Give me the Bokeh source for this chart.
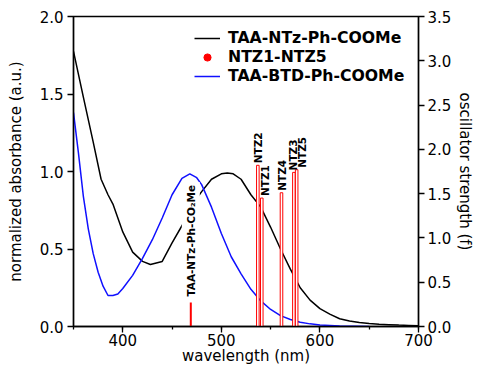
import math
from bokeh.plotting import figure
from bokeh.models import (Range1d, LinearAxis, SingleIntervalTicker, PrintfTickFormatter,
                          Legend, LegendItem, ColumnDataSource)
from bokeh.core.properties import value
from bokeh.embed import file_html
from bokeh.resources import INLINE

# ---------------- data ----------------
ntz_wl = [350, 360, 370, 378, 385, 390, 400, 410, 420, 428, 440, 450, 460, 470, 480, 490,
          500, 506, 512, 520, 530, 540, 550, 560, 570, 580, 590, 600, 610, 620, 630,
          640, 650, 660, 670, 680, 690, 700]
ntz_abs = [1.775, 1.48, 1.19, 0.95, 0.85, 0.79, 0.61, 0.48, 0.42, 0.40, 0.42, 0.54, 0.65,
           0.78, 0.87, 0.95, 0.985, 0.99, 0.985, 0.95, 0.85, 0.77, 0.64, 0.50, 0.37, 0.25,
           0.17, 0.115, 0.08, 0.05, 0.035, 0.026, 0.02, 0.015, 0.012, 0.009, 0.007, 0.005]

btd_wl = [350, 355, 360, 365, 370, 375, 380, 385, 390, 395, 400, 410, 420, 430, 440, 450,
          460, 468, 475, 480, 490, 500, 510, 520, 530, 540, 550, 560, 570, 580, 590, 600,
          620, 650]
btd_abs = [1.38, 1.12, 0.84, 0.63, 0.47, 0.35, 0.26, 0.20, 0.20, 0.21, 0.245, 0.33, 0.44,
           0.56, 0.70, 0.85, 0.955, 0.985, 0.96, 0.915, 0.77, 0.60, 0.45, 0.34, 0.24, 0.165,
           0.11, 0.07, 0.045, 0.028, 0.017, 0.01, 0.004, 0.0]

ref_name = ["TAA-NTz-Ph-CO\u2082Me"]
ref_wl = [469]
ref_f = [0.27]

bar_names = ["NTZ1", "NTZ2", "NTZ3", "NTZ4", "NTZ5"]
bar_wl = [541, 537, 573.6, 561, 576.4]
bar_f = [1.45, 1.82, 1.74, 1.51, 1.77]

x_ticks_major = 100
y_left_ticks = 0.5
y_right_ticks = 0.5

# label pixel nudges (layout only)
bar_label_dx = [3, 0, -1, 1, 5]

FONT = "DejaVu Sans"
W, H = 479, 367
BL, BR, BT, BB = 73, 61, 16, 40

p = figure(width=W, height=H, x_range=Range1d(350, 700), y_range=Range1d(0, 2),
           output_backend="svg", toolbar_location=None,
           min_border_left=BL, min_border_right=BR, min_border_top=BT, min_border_bottom=BB)
p.extra_y_ranges = {"f": Range1d(0, 3.5)}

p.grid.visible = False
p.outline_line_color = "black"
p.outline_line_width = 1.3
p.background_fill_color = "white"
p.border_fill_color = "white"

# curves
black_r = p.line(ntz_wl, ntz_abs, line_color="black", line_width=1.5)
blue_r = p.line(btd_wl, btd_abs, line_color="#1010ff", line_width=1.5)

# sticks
src_bars = ColumnDataSource(dict(x=bar_wl, top=bar_f, name=bar_names, dx=bar_label_dx))
p.vbar(x="x", top="top", bottom=0, width=2.6, source=src_bars, y_range_name="f",
       fill_color="white", line_color="red", line_width=1)
src_ref = ColumnDataSource(dict(x=ref_wl, top=ref_f, name=ref_name))
p.segment(x0="x", y0=0, x1="x", y1="top", source=src_ref, y_range_name="f",
          line_color="red", line_width=2)

# stick labels
p.text(x="x", y="top", text="name", source=src_ref, y_range_name="f",
       angle=math.pi / 2, text_align="left", text_baseline="middle",
       y_offset=-3, text_font=value(FONT), text_font_style="bold",
       text_font_size="10.5px", text_color="black",
       background_fill_color="white", padding=3)
p.text(x="x", y="top", text="name", source=src_bars, y_range_name="f",
       angle=math.pi / 2, text_align="left", text_baseline="middle",
       x_offset="dx", y_offset=-2, text_font=value(FONT), text_font_style="bold",
       text_font_size="10.5px", text_color="black")

# legend renderer for lollipop marker (zero-size markers at stick tops)
dot_r = p.scatter(x="x", y="top", source=src_bars, marker="circle", size=0,
                  fill_color="red", line_color="red", y_range_name="f")

# axes styling
def style_axis(ax):
    ax.axis_line_color = "black"
    ax.axis_line_width = 1.5
    ax.major_tick_line_color = "black"
    ax.minor_tick_line_color = "black"
    ax.major_tick_line_width = 1.3
    ax.minor_tick_line_width = 1.3
    ax.major_tick_in = 0
    ax.major_tick_out = 6
    ax.minor_tick_in = 0
    ax.minor_tick_out = 3
    ax.major_label_text_font = FONT
    ax.major_label_text_font_size = "15px"
    ax.major_label_text_color = "black"
    ax.axis_label_text_font = FONT
    ax.axis_label_text_font_size = "15px"
    ax.axis_label_text_font_style = "normal"
    ax.axis_label_text_color = "black"
    ax.major_label_standoff = 4

xa = p.xaxis[0]
xa.ticker = SingleIntervalTicker(interval=x_ticks_major, num_minor_ticks=2)
xa.axis_label = "wavelength (nm)"
style_axis(xa)
xa.major_label_standoff = 1
xa.axis_label_standoff = -2

ya = p.yaxis[0]
ya.ticker = SingleIntervalTicker(interval=y_left_ticks, num_minor_ticks=0)
ya.formatter = PrintfTickFormatter(format="%.1f")
ya.axis_label = "normalized absorbance (a.u.)"
style_axis(ya)
ya.axis_label_standoff = 12

ra = LinearAxis(y_range_name="f", ticker=SingleIntervalTicker(interval=y_right_ticks, num_minor_ticks=0),
                formatter=PrintfTickFormatter(format="%.1f"), axis_label="oscillator strength (f)")
style_axis(ra)
ra.major_label_standoff = 3
ra.axis_label_standoff = 2
p.add_layout(ra, "right")

legend = Legend(items=[LegendItem(label="TAA-NTz-Ph-COOMe", renderers=[black_r]),
                       LegendItem(label="NTZ1-NTZ5", renderers=[dot_r]),
                       LegendItem(label="TAA-BTD-Ph-COOMe", renderers=[blue_r])],
                location=(121, 241))
legend.label_text_font = FONT
legend.label_text_font_style = "bold"
legend.label_text_font_size = "15.7px"
legend.label_text_color = "black"
legend.glyph_width = 26
legend.glyph_height = 18
legend.label_height = 18
legend.label_standoff = 8
legend.spacing = 0
legend.padding = 0
legend.margin = 0
legend.border_line_color = None
legend.background_fill_alpha = 0
p.add_layout(legend)

open("out.html", "w").write(file_html(p, INLINE))
